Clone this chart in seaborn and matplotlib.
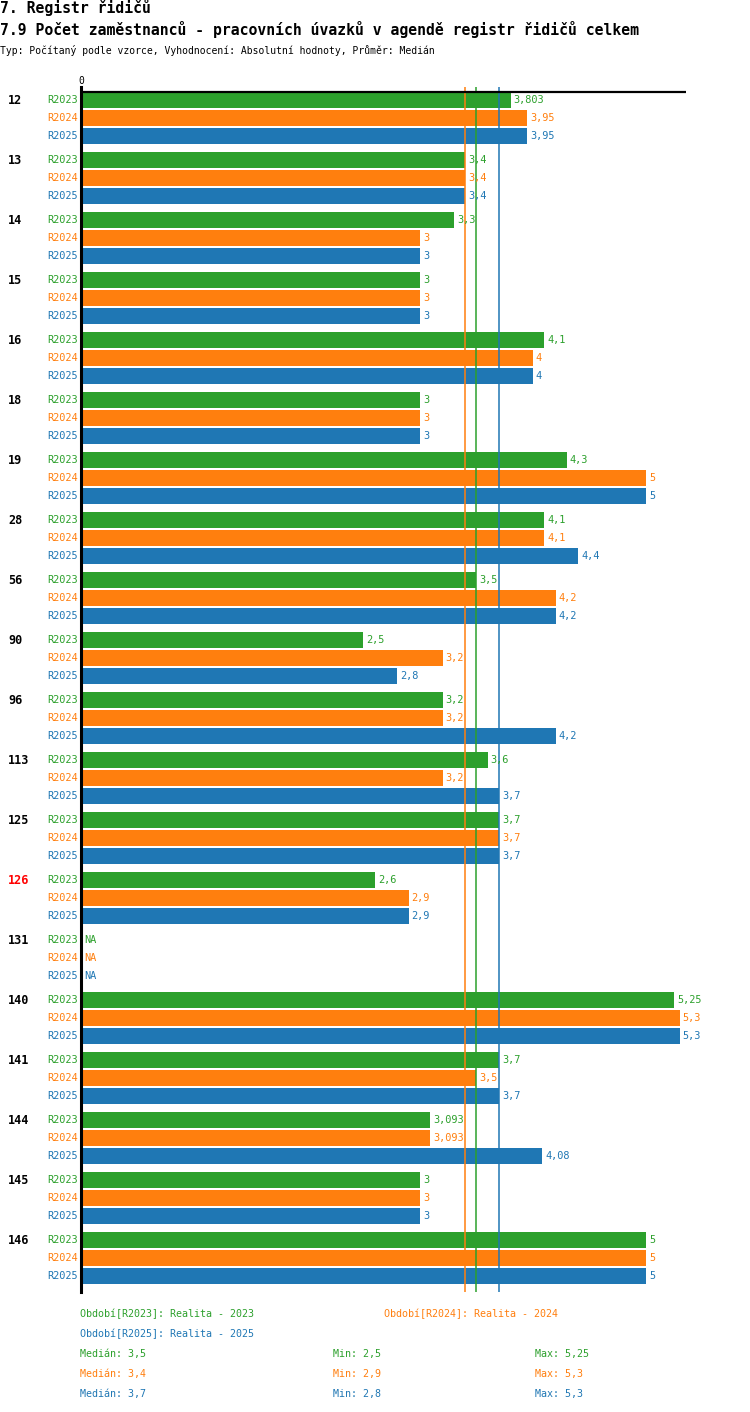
import numpy as np
import pandas as pd
import matplotlib
matplotlib.use("Agg")
import matplotlib.pyplot as plt
import matplotlib.transforms as mtransforms
import seaborn as sns

# ---------------- data ----------------
groups = ["12", "13", "14", "15", "16", "18", "19", "28", "56", "90",
          "96", "113", "125", "126", "131", "140", "141", "144", "145", "146"]
periods = ["R2023", "R2024", "R2025"]
period_names = ["Realita - 2023", "Realita - 2024", "Realita - 2025"]
r2023 = [3.803, 3.4, 3.3, 3, 4.1, 3, 4.3, 4.1, 3.5, 2.5,
         3.2, 3.6, 3.7, 2.6, np.nan, 5.25, 3.7, 3.093, 3, 5]
r2024 = [3.95, 3.4, 3, 3, 4, 3, 5, 4.1, 4.2, 3.2,
         3.2, 3.2, 3.7, 2.9, np.nan, 5.3, 3.5, 3.093, 3, 5]
r2025 = [3.95, 3.4, 3, 3, 4, 3, 5, 4.4, 4.2, 2.8,
         4.2, 3.7, 3.7, 2.9, np.nan, 5.3, 3.7, 4.08, 3, 5]
medians = [3.5, 3.4, 3.7]
mins = [2.5, 2.9, 2.8]
maxs = [5.25, 5.3, 5.3]
highlight_group = "126"

colors = ["#2ca02c", "#ff7f0e", "#1f77b4"]

# ---------------- layout (pixel units) ----------------
W, H = 750, 1412
ax_left, ax_right, ax_top, ax_bottom = 81, 686, 87, 1292
first_center, group_pitch, bar_pitch, bar_h = 100, 60, 18, 16

series = [r2023, r2024, r2025]
rows = []
for gi, g in enumerate(groups):
    for j, p in enumerate(periods):
        rows.append(dict(group=g, period=p, value=series[j][gi],
                         ypos=first_center + group_pitch * gi + bar_pitch * j))
df = pd.DataFrame(rows)

plt.rcParams["font.family"] = ["DejaVu Sans Mono", "DejaVu Sans"]

fig = plt.figure(figsize=(W / 100, H / 100), dpi=100)
ax = fig.add_axes([ax_left / W, 1 - ax_bottom / H,
                   (ax_right - ax_left) / W, (ax_bottom - ax_top) / H])

sns.barplot(data=df.dropna(subset=["value"]), x="value", y="ypos", hue="period",
            hue_order=periods, palette=colors, orient="h", native_scale=True,
            dodge=False, width=bar_h / bar_pitch, errorbar=None, legend=False,
            saturation=1, ax=ax)

ax.set_xlim(0, 5.355)
ax.set_ylim(ax_bottom, ax_top)

# median lines
for m, c in zip(medians, colors):
    ax.axvline(m, color=c, lw=1.1, zorder=5)

ax.axhline(92, color="black", lw=1.6, zorder=6)

for s in ["top", "right", "bottom"]:
    ax.spines[s].set_visible(False)
ax.spines["left"].set_color("black")
ax.spines["left"].set_linewidth(2.2)
ax.spines["left"].set_zorder(7)

ax.set_yticks([])
ax.set_ylabel("")
ax.set_xlabel("")
ax.xaxis.tick_top()
ax.set_xticks([0])
ax.set_xticklabels(["0"])
ax.tick_params(axis="x", length=0, pad=1, labelsize=7)

# labels
trans = mtransforms.blended_transform_factory(fig.transFigure, ax.transData)
for _, r in df.iterrows():
    j = periods.index(r["period"])
    c = colors[j]
    if j == 0:
        ax.text(8 / W, r["ypos"], r["group"], transform=trans, ha="left", va="center",
                fontsize=8.5, fontweight="bold",
                color="#ff0000" if r["group"] == highlight_group else "black")
    ax.text(78 / W, r["ypos"], r["period"], transform=trans, ha="right", va="center",
            fontsize=7.4, color=c)
    if np.isnan(r["value"]):
        lab, xv = "NA", 0
    else:
        lab, xv = f"{r['value']:g}".replace(".", ","), r["value"]
    ax.annotate(lab, (xv, r["ypos"]), xytext=(3, 0), textcoords="offset pixels",
                ha="left", va="center", fontsize=7.4, color=c, zorder=8)

# titles
fig.text(0, 1 - 8 / H, "7. Registr řidičů", ha="left", va="center",
         fontsize=10.6, fontweight="bold")
fig.text(0, 1 - 30 / H,
         "7.9 Počet zaměstnanců - pracovních úvazků v agendě registr řidičů celkem",
         ha="left", va="center", fontsize=10.6, fontweight="bold")
fig.text(0, 1 - 50 / H,
         "Typ: Počítaný podle vzorce, Vyhodnocení: Absolutní hodnoty, Průměr: Medián",
         ha="left", va="center", fontsize=7.0)

# bottom legend
leg_fs = 7.2
leg_pos = [(80, 1314), (384, 1314), (80, 1334)]
for (x, y), p, nm, c in zip(leg_pos, periods, period_names, colors):
    fig.text(x / W, 1 - y / H, f"Období[{p}]: {nm}", ha="left", va="center",
             fontsize=leg_fs, color=c)
for j, c in enumerate(colors):
    y = 1354 + 20 * j
    fig.text(80 / W, 1 - y / H, f"Medián: {medians[j]:g}".replace(".", ","),
             ha="left", va="center", fontsize=leg_fs, color=c)
    fig.text(333 / W, 1 - y / H, f"Min: {mins[j]:g}".replace(".", ","),
             ha="left", va="center", fontsize=leg_fs, color=c)
    fig.text(535 / W, 1 - y / H, f"Max: {maxs[j]:g}".replace(".", ","),
             ha="left", va="center", fontsize=leg_fs, color=c)

fig.savefig("out.png", dpi=100)
